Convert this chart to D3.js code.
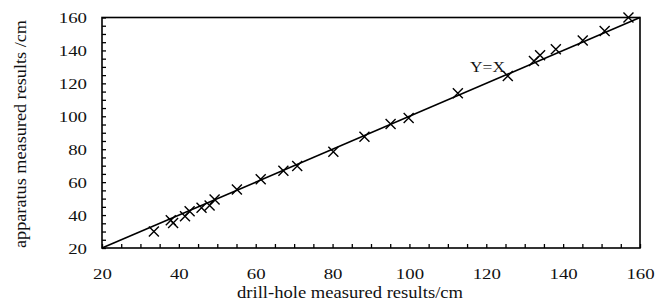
<!DOCTYPE html>
<html>
<head>
<meta charset="utf-8">
<script src="https://cdn.jsdelivr.net/npm/d3@7"></script>
<style>
  html, body { margin: 0; padding: 0; background: #fff; }
  svg { display: block; }
</style>
</head>
<body>
<svg id="chart" width="657" height="304"></svg>
<script>
// Data
const drillHole = [33.5, 37.9, 38.5, 41.6, 42.8, 45.9, 48.0, 49.3, 55.1, 61.3, 67.2, 70.8, 80.2, 88.3, 95.1, 99.8, 112.6, 125.6, 132.4, 134.0, 138.1, 145.1, 150.8, 157.0];
const apparatus = [30.0, 36.8, 35.2, 39.3, 42.3, 44.4, 45.8, 49.4, 55.6, 61.7, 66.9, 69.8, 78.5, 87.6, 95.3, 99.0, 114.0, 124.5, 133.6, 137.0, 140.7, 146.0, 151.8, 160.0];
const xTickValues = [20, 40, 60, 80, 100, 120, 140, 160];
const yTickValues = [20, 40, 60, 80, 100, 120, 140, 160];
const domainX = [20, 160];
const domainY = [20, 160];
const refLine = [[20, 20], [160, 160]];
const refLabel = "Y=X";
const xTitle = "drill-hole measured results/cm";
const yTitle = "apparatus measured results /cm";

(function () {
const FONT = "'Liberation Serif', 'Times New Roman', Times, serif";
const svg = d3.select("#chart");
const mLeft = 102, mRight = 640, mTop = 17.5, mBottom = 248;
const x = d3.scaleLinear().domain(domainX).range([mLeft, mRight]);
const y = d3.scaleLinear().domain(domainY).range([mBottom, mTop]);

const minorX = d3.range(domainX[0], domainX[1] + 0.1, 5);
const minorY = d3.range(domainY[0], domainY[1] + 0.1, 5);

// X axis
const gx = svg.append("g").attr("transform", `translate(0,${mBottom})`)
  .call(d3.axisBottom(x).tickValues(minorX).tickSize(-4).tickSizeOuter(0)
    .tickFormat(d => xTickValues.includes(d) ? d : ""));
gx.attr("font-family", null).attr("font-size", null);
gx.select(".domain").remove();
gx.selectAll(".tick line").attr("stroke", "#000").attr("stroke-width", 1.3);
gx.selectAll(".tick text")
  .attr("y", 30.5).attr("dy", null)
  .style("font-family", FONT)
  .style("font-size", "15.5px")
  .attr("fill", "#111")
  .each(function(d) {
    const s = String(d);
    if (xTickValues.includes(d)) {
      d3.select(this).attr("textLength", s.length * 9.4).attr("lengthAdjust", "spacingAndGlyphs");
    }
  });

// Y axis
const gy = svg.append("g").attr("transform", `translate(${mLeft},0)`)
  .call(d3.axisLeft(y).tickValues(minorY).tickSize(-4).tickSizeOuter(0).tickPadding(15)
    .tickFormat(d => yTickValues.includes(d) ? d : ""));
gy.attr("font-family", null).attr("font-size", null);
gy.select(".domain").remove();
gy.selectAll(".tick line").attr("stroke", "#000").attr("stroke-width", 1.3);
gy.selectAll(".tick text")
  .style("font-family", FONT)
  .style("font-size", "15.5px")
  .attr("fill", "#111")
  .attr("dy", "0.34em")
  .each(function(d) {
    const s = String(d);
    if (yTickValues.includes(d)) {
      d3.select(this).attr("textLength", s.length * 9.4).attr("lengthAdjust", "spacingAndGlyphs");
    }
  });

// Frame
svg.append("rect")
  .attr("x", x(domainX[0])).attr("y", y(domainY[1]))
  .attr("width", x(domainX[1]) - x(domainX[0]))
  .attr("height", y(domainY[0]) - y(domainY[1]))
  .attr("fill", "none").attr("stroke", "#000").attr("stroke-width", 1.6);

// Reference line Y=X
svg.append("path")
  .datum(refLine)
  .attr("d", d3.line().x(d => x(d[0])).y(d => y(d[1])))
  .attr("fill", "none").attr("stroke", "#000").attr("stroke-width", 1.6);

// Markers
const pts = drillHole.map((v, i) => [v, apparatus[i]]);
const mx = 5, my = 5;
svg.append("g").selectAll("path").data(pts).join("path")
  .attr("d", d => {
    const cx = x(d[0]), cy = y(d[1]);
    return `M${cx - mx},${cy - my}L${cx + mx},${cy + my}M${cx - mx},${cy + my}L${cx + mx},${cy - my}`;
  })
  .attr("fill", "none").attr("stroke", "#000").attr("stroke-width", 1.4);

// Y=X label
svg.append("text")
  .attr("x", 470).attr("y", 71.5)
  .style("font-family", FONT)
  .style("font-size", "15.5px")
  .attr("fill", "#111")
  .attr("textLength", 35).attr("lengthAdjust", "spacingAndGlyphs")
  .text(refLabel);

// Axis titles
svg.append("text")
  .attr("x", 237).attr("y", 298)
  .style("font-family", FONT)
  .style("font-size", "16px")
  .attr("fill", "#111")
  .attr("textLength", 226).attr("lengthAdjust", "spacingAndGlyphs")
  .text(xTitle);

svg.append("text")
  .attr("transform", "translate(25.5,248) rotate(-90)")
  .style("font-family", FONT)
  .style("font-size", "16px")
  .attr("fill", "#111")
  .attr("textLength", 228).attr("lengthAdjust", "spacingAndGlyphs")
  .text(yTitle);
})();
</script>
</body>
</html>
